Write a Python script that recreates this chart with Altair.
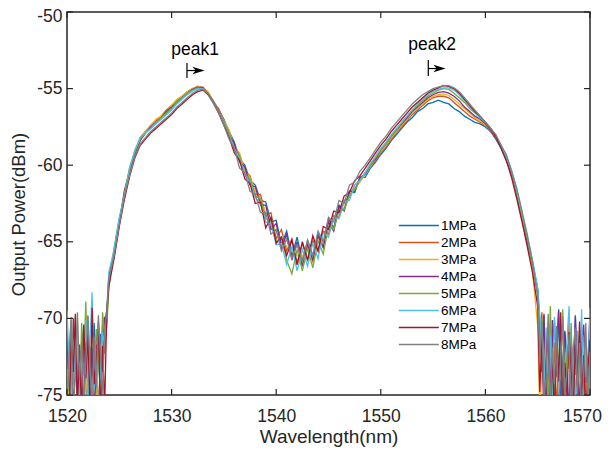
import altair as alt
import pandas as pd

# ---------------- data ----------------
wl_left = [1520.0, 1520.2, 1520.4, 1520.6, 1520.8, 1521.0, 1521.2, 1521.4, 1521.6, 1521.8,
           1522.0, 1522.2, 1522.4, 1522.6, 1522.8, 1523.0, 1523.2, 1523.4, 1523.6, 1523.8]
wl_mid = [1524.0, 1524.5, 1525.0, 1525.5, 1526.0, 1526.5, 1527.0, 1527.5, 1528.0, 1528.5,
          1529.0, 1529.5, 1530.0, 1530.5, 1531.0, 1531.5, 1532.0, 1532.5, 1533.0, 1533.5,
          1534.0, 1534.5, 1535.0, 1535.5, 1536.0, 1536.5, 1537.0, 1537.5, 1538.0, 1538.5,
          1539.0, 1539.5, 1540.0, 1540.5, 1541.0, 1541.5, 1542.0, 1542.5, 1543.0, 1543.5,
          1544.0, 1544.5, 1545.0, 1545.5, 1546.0, 1546.5, 1547.0, 1547.5, 1548.0, 1548.5,
          1549.0, 1549.5, 1550.0, 1550.5, 1551.0, 1551.5, 1552.0, 1552.5, 1553.0, 1553.5,
          1554.0, 1554.5, 1555.0, 1555.5, 1556.0, 1556.5, 1557.0, 1557.5, 1558.0, 1558.5,
          1559.0, 1559.5, 1560.0, 1560.5, 1561.0, 1561.5, 1562.0, 1562.5, 1563.0, 1563.5,
          1564.0, 1564.5, 1565.0]
wl_right = [1565.2, 1565.4, 1565.6, 1565.8, 1566.0, 1566.2, 1566.4, 1566.6, 1566.8, 1567.0,
            1567.2, 1567.4, 1567.6, 1567.8, 1568.0, 1568.2, 1568.4, 1568.6, 1568.8, 1569.0,
            1569.2, 1569.4, 1569.6, 1569.8, 1570.0]
wavelength = wl_left + wl_mid + wl_right

p1MPa = [
    -72.5, -74.8, -70.9, -76.0, -73.2, -71.4, -75.5, -72.8, -70.6, -74.1,
    -76.5, -72.0, -73.8, -70.3, -75.2, -72.6, -71.0, -73.5, -70.2, -69.5,
    -67.6, -65.9, -63.7, -62.0, -60.4, -59.2, -58.3, -57.9, -57.5, -57.3,
    -56.9, -56.6, -56.3, -55.9, -55.6, -55.3, -55.1, -54.9, -54.95, -55.3,
    -55.8, -56.4, -57.0, -57.8, -58.5, -59.6, -60.0, -61.0, -61.3, -62.3,
    -62.4, -63.7, -63.6, -65.2, -64.3, -65.9, -64.7, -66.3, -64.9, -65.9,
    -64.5, -65.2, -63.5, -64.1, -62.6, -62.9, -61.7, -61.8, -60.8, -60.8,
    -60.2, -59.8, -59.3, -58.9, -58.4, -58.0, -57.6, -57.2, -56.9, -56.5,
    -56.3, -56.0, -55.9, -55.75, -55.9, -56.0, -56.3, -56.5, -56.8, -57.0,
    -57.2, -57.3, -57.5, -57.8, -58.3, -58.9, -59.7, -60.6, -61.9, -63.3,
    -64.7, -66.3, -68.1,
    -70.2, -72.5, -69.8, -74.6, -71.3, -76.2, -72.0, -70.1, -73.8, -69.4,
    -75.1, -72.7, -70.8, -74.3, -76.8, -71.5, -73.2, -69.9, -75.6, -72.3,
    -70.6, -74.9, -71.8, -73.6, -76.3]

p2MPa = [
    -74.0, -71.6, -75.8, -73.0, -70.8, -76.4, -72.2, -74.7, -71.1, -73.6,
    -69.8, -75.3, -72.9, -74.4, -71.7, -76.0, -73.1, -70.4, -72.3, -70.0,
    -67.3, -65.7, -63.9, -61.9, -60.2, -59.1, -58.2, -57.8, -57.4, -57.1,
    -56.8, -56.4, -56.1, -55.8, -55.5, -55.2, -55.0, -54.85, -54.9, -55.3,
    -55.9, -56.3, -57.1, -57.9, -58.7, -59.3, -60.4, -60.7, -61.9, -61.9,
    -63.3, -63.1, -64.8, -64.2, -65.6, -64.8, -66.4, -65.1, -66.2, -64.9,
    -65.6, -64.3, -64.5, -63.3, -63.4, -62.3, -62.1, -61.3, -61.0, -60.5,
    -60.1, -59.7, -59.2, -58.8, -58.3, -57.9, -57.5, -57.1, -56.7, -56.4,
    -56.1, -55.8, -55.6, -55.5, -55.5, -55.6, -55.9, -56.2, -56.5, -56.8,
    -57.0, -57.2, -57.4, -57.8, -58.2, -58.8, -59.6, -60.5, -61.8, -63.4,
    -64.9, -66.5, -68.4,
    -71.8, -69.6, -73.9, -76.5, -72.1, -70.4, -74.8, -71.6, -75.9, -73.0,
    -70.7, -76.9, -72.8, -74.1, -70.3, -75.4, -72.5, -73.7, -71.2, -76.0,
    -74.4, -70.9, -75.1, -72.9, -73.4]

p3MPa = [
    -73.3, -75.9, -71.9, -74.2, -69.9, -72.7, -76.3, -73.7, -70.9, -75.0,
    -72.4, -74.6, -70.5, -73.4, -76.1, -71.3, -74.0, -72.1, -70.7, -69.8,
    -67.8, -65.6, -63.6, -62.1, -60.3, -59.0, -58.3, -57.8, -57.4, -57.0,
    -56.8, -56.5, -56.1, -55.7, -55.5, -55.2, -55.0, -54.85, -54.95, -55.2,
    -55.8, -56.5, -57.1, -57.7, -58.8, -59.2, -60.4, -60.8, -61.7, -62.2,
    -63.1, -63.6, -64.4, -64.8, -65.3, -65.6, -65.9, -66.0, -65.1, -66.4,
    -64.7, -65.1, -63.7, -64.2, -62.8, -62.8, -62.0, -61.5, -61.1, -60.6,
    -60.1, -59.6, -59.1, -58.7, -58.2, -57.8, -57.4, -57.0, -56.6, -56.3,
    -56.0, -55.7, -55.5, -55.4, -55.35, -55.45, -55.7, -56.0, -56.3, -56.6,
    -56.9, -57.1, -57.4, -57.7, -58.1, -58.7, -59.5, -60.4, -61.7, -63.2,
    -64.6, -66.9, -70.5,
    -76.5, -73.3, -71.0, -75.2, -72.6, -70.2, -74.5, -76.8, -71.7, -73.9,
    -70.6, -75.7, -72.2, -74.0, -71.4, -76.2, -73.1, -70.9, -74.7, -72.4,
    -75.3, -71.1, -73.8, -76.0, -72.7]

p4MPa = [
    -71.2, -73.9, -76.2, -70.0, -72.8, -75.1, -71.7, -73.4, -76.0, -70.5,
    -72.1, -74.9, -71.9, -76.3, -73.0, -70.8, -74.5, -72.4, -69.9, -70.3,
    -67.2, -66.0, -63.8, -61.6, -60.4, -59.2, -58.4, -57.9, -57.5, -57.2,
    -56.9, -56.5, -56.2, -55.9, -55.6, -55.3, -55.05, -54.9, -54.95, -55.35,
    -55.9, -56.5, -57.2, -58.0, -58.6, -59.8, -60.1, -61.3, -61.4, -62.6,
    -62.6, -64.2, -63.8, -65.4, -64.5, -66.2, -65.0, -66.6, -65.2, -66.2,
    -64.6, -65.4, -63.7, -64.3, -62.7, -63.0, -61.7, -61.7, -60.8, -60.6,
    -60.0, -59.6, -59.0, -58.6, -58.1, -57.7, -57.3, -56.9, -56.5, -56.2,
    -55.9, -55.6, -55.4, -55.25, -55.2, -55.3, -55.5, -55.8, -56.2, -56.5,
    -56.8, -57.0, -57.3, -57.7, -58.2, -58.8, -59.6, -60.5, -61.9, -63.5,
    -65.0, -66.4, -68.2,
    -70.8, -73.5, -69.7, -75.8, -72.0, -74.3, -70.1, -76.4, -71.9, -69.5,
    -73.7, -75.5, -70.9, -72.6, -76.7, -71.3, -74.8, -69.8, -73.1, -75.9,
    -71.6, -70.4, -74.2, -72.8, -69.6]

p5MPa = [
    -76.1, -72.3, -69.9, -74.4, -71.5, -73.2, -75.7, -70.3, -72.9, -68.9,
    -74.8, -71.8, -76.6, -73.5, -70.7, -72.4, -75.0, -69.6, -71.1, -70.6,
    -68.0, -65.4, -63.5, -61.8, -60.1, -59.1, -58.3, -57.9, -57.6, -57.2,
    -56.9, -56.6, -56.3, -55.9, -55.6, -55.3, -55.1, -54.95, -55.0, -55.4,
    -55.9, -56.6, -57.2, -57.9, -59.0, -59.4, -60.6, -60.9, -62.0, -62.2,
    -63.5, -63.6, -65.0, -64.7, -66.2, -67.1, -65.5, -66.9, -65.4, -66.7,
    -64.9, -65.8, -64.0, -64.2, -63.0, -62.9, -62.0, -61.6, -61.0, -60.5,
    -60.0, -59.5, -59.0, -58.6, -58.1, -57.7, -57.2, -56.8, -56.4, -56.1,
    -55.8, -55.5, -55.3, -55.1, -55.0, -55.05, -55.3, -55.6, -55.9, -56.3,
    -56.6, -56.9, -57.2, -57.6, -58.1, -58.8, -59.5, -60.5, -61.8, -63.4,
    -64.8, -66.6, -68.3,
    -72.4, -70.0, -74.6, -71.2, -76.3, -69.2, -73.4, -75.2, -70.6, -72.9,
    -74.0, -69.4, -76.1, -71.7, -73.3, -70.3, -75.7, -72.1, -74.4, -70.8,
    -76.5, -73.0, -71.4, -75.0, -72.5]

p6MPa = [
    -69.5, -73.0, -75.4, -71.6, -74.1, -70.7, -76.0, -72.5, -73.7, -70.1,
    -75.2, -71.4, -68.3, -74.6, -72.0, -76.4, -73.2, -70.9, -71.8, -69.4,
    -67.0, -65.5, -63.4, -62.0, -60.2, -59.0, -58.2, -57.9, -57.6, -57.3,
    -57.0, -56.7, -56.4, -56.0, -55.7, -55.4, -55.15, -55.0, -55.0, -55.4,
    -56.0, -56.5, -57.3, -58.1, -58.9, -59.6, -60.6, -61.1, -62.1, -62.5,
    -63.7, -63.8, -65.2, -65.1, -66.5, -65.3, -66.9, -65.5, -66.6, -65.1,
    -66.1, -64.4, -64.7, -63.4, -63.5, -62.4, -62.3, -61.3, -61.0, -60.5,
    -59.9, -59.4, -58.9, -58.5, -58.0, -57.6, -57.2, -56.8, -56.4, -56.0,
    -55.7, -55.4, -55.2, -55.05, -54.95, -54.95, -55.1, -55.4, -55.8, -56.2,
    -56.5, -56.9, -57.2, -57.6, -58.1, -58.7, -59.4, -60.3, -61.6, -63.1,
    -64.5, -66.2, -68.0,
    -69.8, -72.3, -74.9, -70.6, -73.6, -71.1, -75.8, -69.9, -72.7, -74.2,
    -70.4, -76.2, -73.1, -71.5, -69.2, -74.7, -72.0, -75.4, -70.8, -73.9,
    -69.4, -76.6, -71.9, -74.4, -69.3]

p7MPa = [
    -74.7, -76.8, -71.3, -73.5, -69.7, -75.6, -72.1, -76.3, -70.4, -73.9,
    -71.0, -75.9, -69.3, -74.3, -72.7, -70.2, -76.5, -71.8, -75.8, -69.6,
    -67.9, -66.1, -64.0, -62.2, -60.7, -59.5, -58.7, -58.3, -57.9, -57.6,
    -57.3, -57.0, -56.7, -56.3, -56.0, -55.7, -55.4, -55.2, -55.1, -55.4,
    -55.9, -56.6, -57.4, -58.2, -59.2, -59.7, -60.9, -61.2, -62.5, -62.4,
    -64.1, -63.4, -65.1, -64.7, -65.9, -64.9, -66.5, -65.0, -66.2, -64.6,
    -65.6, -64.0, -64.2, -63.0, -63.1, -62.0, -61.8, -61.0, -60.7, -60.2,
    -59.7, -59.2, -58.7, -58.3, -57.8, -57.4, -57.0, -56.6, -56.2, -55.9,
    -55.6, -55.3, -55.1, -54.95, -54.8, -54.85, -55.0, -55.3, -55.7, -56.1,
    -56.5, -56.8, -57.2, -57.6, -58.1, -58.9, -59.7, -60.8, -62.2, -63.7,
    -65.3, -67.0, -69.2,
    -74.8, -71.2, -76.7, -73.0, -70.5, -75.9, -72.6, -76.4, -71.0, -74.1,
    -69.6, -76.9, -72.9, -75.0, -70.9, -73.6, -76.2, -71.7, -74.5, -70.2,
    -75.7, -72.4, -76.8, -73.3, -71.4]

p8MPa = [
    -75.2, -72.4, -70.1, -76.6, -73.3, -69.6, -74.0, -71.5, -75.7, -72.8,
    -69.9, -73.1, -76.2, -71.2, -74.5, -69.8, -72.2, -75.3, -70.7, -69.7,
    -67.4, -65.9, -63.9, -62.0, -60.6, -59.4, -58.6, -58.2, -57.8, -57.5,
    -57.2, -56.9, -56.6, -56.2, -55.9, -55.6, -55.3, -55.1, -55.05, -55.35,
    -55.9, -56.6, -57.4, -58.3, -58.9, -60.2, -60.5, -61.7, -61.9, -63.1,
    -63.1, -64.5, -64.2, -65.6, -64.8, -66.1, -65.2, -66.3, -64.9, -65.9,
    -64.3, -65.0, -63.4, -63.7, -62.3, -62.5, -61.3, -61.1, -60.4, -60.0,
    -59.5, -59.0, -58.5, -58.1, -57.6, -57.2, -56.8, -56.4, -56.0, -55.7,
    -55.4, -55.2, -55.0, -54.9, -54.8, -54.8, -54.95, -55.2, -55.6, -56.0,
    -56.4, -56.8, -57.2, -57.6, -58.0, -58.7, -59.3, -60.4, -61.5, -63.0,
    -64.6, -66.3, -68.6,
    -72.6, -70.2, -75.4, -73.8, -69.7, -76.1, -71.9, -74.3, -70.5, -76.5,
    -72.8, -69.9, -75.1, -73.4, -71.0, -76.8, -72.1, -70.6, -74.9, -71.6,
    -76.3, -73.5, -70.3, -75.8, -72.2]

series_labels = ["1MPa", "2MPa", "3MPa", "4MPa", "5MPa", "6MPa", "7MPa", "8MPa"]
series_values = [p1MPa, p2MPa, p3MPa, p4MPa, p5MPa, p6MPa, p7MPa, p8MPa]
series_colors = ["#0072BD", "#D95319", "#EDB120", "#7E2F8E",
                 "#77AC30", "#4DBEEE", "#A2142F", "#808080"]

x_ticks = [1520, 1530, 1540, 1550, 1560, 1570]
y_ticks = [-75, -70, -65, -60, -55, -50]

peak_names = ["peak1", "peak2"]
peak_text_x = [1532.24, 1554.9]
peak_text_y = [-52.81, -52.48]
peak_bar_x = [1531.47, 1554.54]
peak_bar_y1 = [-53.33, -53.13]
peak_bar_y2 = [-54.31, -54.18]
peak_arrow_y = [-53.82, -53.69]
peak_head_x = [1532.57, 1555.61]

# ---------------- tables ----------------
rows = []
for lab, vals in zip(series_labels, series_values):
    for w, v in zip(wavelength, vals):
        rows.append({"wl": w, "p": v, "s": lab})
df = pd.DataFrame(rows)

ann = pd.DataFrame({"t": peak_names, "wl": peak_text_x, "p": peak_text_y})
bars = pd.DataFrame({"wl": peak_bar_x, "p": peak_bar_y1, "p2": peak_bar_y2})
shaft = pd.DataFrame({"wl": peak_bar_x, "wl2": peak_head_x, "p": peak_arrow_y})
heads = pd.DataFrame({"wl": peak_head_x, "p": peak_arrow_y})
xt = pd.DataFrame({"wl": x_ticks})
yt = pd.DataFrame({"p": y_ticks})

W, H = 523, 383
FONT = "Liberation Sans"
INK = "#262626"

xscale = alt.Scale(domain=[1520, 1570], nice=False, zero=False)
yscale = alt.Scale(domain=[-75, -50], nice=False, zero=False)
xaxis = alt.Axis(values=x_ticks, title="Wavelength(nm)", format="d",
                 labelFlush=False,
                 labelOffset={"condition": {"test": "datum.value == 1570", "value": -8},
                              "value": 0},
                 labelPadding=12, titlePadding=3, titleFontSize=19)
yaxis = alt.Axis(values=y_ticks, title="Output Power(dBm)",
                 labelExpr="datum.value + ''", labelFlush=False,
                 labelOffset={"condition": {"test": "datum.value == -50", "value": 4},
                              "value": 0},
                 labelPadding=5, titlePadding=8, titleFontSize=18.5, titleY=202)

X = alt.X("wl:Q", scale=xscale, axis=xaxis)
Y = alt.Y("p:Q", scale=yscale, axis=yaxis)

lines = alt.Chart(df).mark_line(strokeWidth=1.3, clip=True).encode(
    x=X, y=Y,
    color=alt.Color("s:N", scale=alt.Scale(domain=series_labels, range=series_colors),
                    legend=alt.Legend(orient="none", legendX=331, legendY=206,
                                      title=None, symbolType="M-1,0H5",
                                      symbolSize=178, symbolStrokeWidth=1.5,
                                      labelFont=FONT, labelFontSize=13.5,
                                      labelColor="#000000", labelOffset=28,
                                      rowPadding=3, padding=0)),
)

text = alt.Chart(ann).mark_text(font=FONT, fontSize=17.5, color="#000000",
                                align="center", baseline="alphabetic").encode(
    x=X, y=Y, text="t:N")

bar_rules = alt.Chart(bars).mark_rule(color="#000000", strokeWidth=1.2).encode(
    x=X, y=Y, y2="p2:Q")
shaft_rules = alt.Chart(shaft).mark_rule(color="#000000", strokeWidth=1.2).encode(
    x=X, x2="wl2:Q", y=Y)
head_pts = alt.Chart(heads).mark_point(
    shape="M1,0L-1,-0.62L-0.45,0L-1,0.62Z", filled=True, size=150,
    color="#000000", opacity=1).encode(x=X, y=Y)

tick_b = alt.Chart(xt).mark_rule(color=INK, strokeWidth=1.2).encode(
    x=X, y=alt.value(H), y2=alt.value(H - 6))
tick_t = alt.Chart(xt).mark_rule(color=INK, strokeWidth=1.2).encode(
    x=X, y=alt.value(0), y2=alt.value(6))
tick_l = alt.Chart(yt).mark_rule(color=INK, strokeWidth=1.2).encode(
    y=Y, x=alt.value(0), x2=alt.value(6))
tick_r = alt.Chart(yt).mark_rule(color=INK, strokeWidth=1.2).encode(
    y=Y, x=alt.value(W), x2=alt.value(W - 6))

chart = alt.layer(
    lines, text, bar_rules, shaft_rules, head_pts, tick_b, tick_t, tick_l, tick_r
).properties(
    width=W, height=H,
    autosize=alt.AutoSizeParams(type="none"),
    padding={"left": 59, "top": 4, "right": 12, "bottom": 52},
    background="white",
).configure_view(
    stroke=INK, strokeWidth=1.5
).configure_axis(
    labelFont=FONT, titleFont=FONT, labelFontSize=17.5, labelColor=INK,
    titleColor=INK, titleFontWeight="normal", grid=False, domain=False,
    ticks=False, tickSize=0,
)

chart.save("out.html", embed_options={"renderer": "svg", "actions": False})
